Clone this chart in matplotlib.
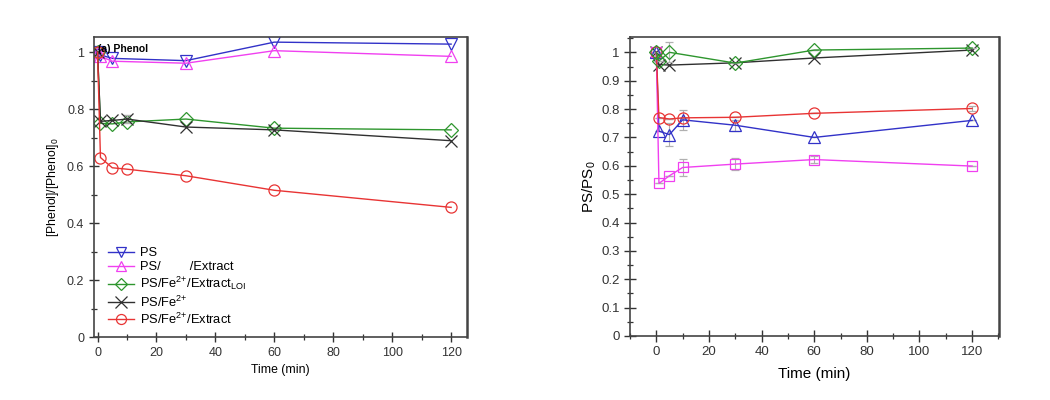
import matplotlib.pyplot as plt
from matplotlib.ticker import MultipleLocator

plt.rcParams['font.family'] = ['Liberation Sans', 'DejaVu Sans']
plt.rcParams['mathtext.default'] = 'regular'

# ---- panel (a) phenol ----
t_a = [0, 1, 5, 10, 30, 60, 120]
t_ps = [0, 1, 5, 30, 60, 120]
ps_a = [1.0, 0.99, 0.978, 0.97, 1.035, 1.028]
psx_a = [1.0, 0.985, 0.968, 0.961, 1.005, 0.985]
loi_a = [1.0, 0.75, 0.748, 0.755, 0.765, 0.733, 0.727]
fe_a = [1.0, 0.757, 0.76, 0.765, 0.737, 0.727, 0.689]
fex_a = [1.0, 0.63, 0.594, 0.589, 0.566, 0.515, 0.455]

# ---- panel (b) PS ----
t_b = [0, 1, 5, 10, 30, 60, 120]
t_b2 = [0, 1, 5, 30, 60, 120]
ps_b = [1.0, 0.722, 0.71, 0.762, 0.743, 0.70, 0.76]
ps_b_err = [0, 0.0, 0.04, 0.035, 0.02, 0.0, 0.0]
psx_b = [1.0, 0.538, 0.565, 0.594, 0.606, 0.622, 0.599]
psx_b_err = [0, 0, 0, 0.03, 0.022, 0.012, 0]
fex_b = [1.0, 0.77, 0.765, 0.769, 0.771, 0.785, 0.802]
fex_b_err = [0, 0, 0, 0, 0, 0, 0.01]
loi_b = [1.0, 0.97, 1.0, 0.962, 1.008, 1.015]
loi_b_err = [0, 0, 0.035, 0, 0, 0]
fe_b = [1.0, 0.957, 0.955, 0.963, 0.98, 1.008]

labels = ['PS', 'PS/        /Extract', 'PS/Fe$^{2{+}}$/Extract$_{LOI}$',
          'PS/Fe$^{2{+}}$', 'PS/Fe$^{2{+}}$/Extract']

blue = '#3232c8'
mag = '#f040f0'
green = '#2e962e'
blk = '#303030'
red = '#e83434'
ecol = '#b0b0b0'

fig = plt.figure(figsize=(10.5, 4), dpi=100)
ax1 = fig.add_axes([0.0895, 0.1575, 0.3553, 0.75])
ax2 = fig.add_axes([0.6, 0.16, 0.3514, 0.7475])

mk = dict(markerfacecolor='none', markersize=8, linewidth=1.0, markeredgewidth=0.9)
ax1.plot(t_ps, ps_a, marker='v', color=blue, label=labels[0], **mk)
ax1.plot(t_ps, psx_a, marker='^', color=mag, label=labels[1], **mk)
ax1.plot(t_a, loi_a, marker='D', color=green, label=labels[2], markerfacecolor='none',
         markersize=7, linewidth=1.0, markeredgewidth=0.9)
ax1.errorbar([10], [0.765], yerr=[0.015], fmt='none', ecolor=ecol, capsize=3, lw=0.8)
ax1.plot(t_a, fe_a, marker='x', color=blk, label=labels[3], markersize=9, linewidth=1.0,
         markeredgewidth=0.9)
ax1.plot(t_a, fex_a, marker='o', color=red, label=labels[4], **mk)

ax1.set_xlim(-1.2, 125.4)
ax1.set_ylim(0, 1.053)
ax1.xaxis.set_major_locator(MultipleLocator(20))
ax1.xaxis.set_minor_locator(MultipleLocator(10))
ax1.set_yticks([0, 0.2, 0.4, 0.6, 0.8, 1.0])
ax1.set_yticklabels(['0', '0.2', '0.4', '0.6', '0.8', '1'])
ax1.yaxis.set_minor_locator(MultipleLocator(0.1))
ax1.tick_params(which='major', direction='inout', length=7, width=1.0, labelsize=9, colors='#333333')
ax1.tick_params(which='minor', direction='inout', length=4, width=0.9, colors='#333333')
ax1.set_xlabel('Time (min)', fontsize=8.8, labelpad=4)
ax1.set_ylabel('[Phenol]/[Phenol]$_0$', fontsize=8.8, labelpad=4)
ax1.text(0.012, 0.975, '(a) Phenol', transform=ax1.transAxes, fontsize=7.5,
         fontweight='bold', va='top', ha='left')
ax1.legend(loc='lower left', bbox_to_anchor=(0.01, 0.0), frameon=False, fontsize=9.3,
           handlelength=2.0, handletextpad=0.5, labelspacing=0.15, borderaxespad=0.4,
           markerscale=0.9)

# panel b
ax2.errorbar(t_b, ps_b, yerr=ps_b_err, marker='^', color=blue, ecolor=ecol, capsize=3,
             elinewidth=0.8, **mk)
ax2.errorbar(t_b, psx_b, yerr=psx_b_err, marker='s', color=mag, ecolor=ecol, capsize=3,
             elinewidth=0.8, markerfacecolor='none', markersize=7, linewidth=1.0,
             markeredgewidth=0.9)
ax2.errorbar(t_b, fex_b, yerr=fex_b_err, marker='o', color=red, ecolor=ecol, capsize=3,
             elinewidth=0.8, **mk)
ax2.plot(t_b2, fe_b, marker='x', color=blk, markersize=9, linewidth=1.0, markeredgewidth=0.9)
ax2.errorbar(t_b2, loi_b, yerr=loi_b_err, marker='D', color=green, ecolor=ecol, capsize=3,
             elinewidth=0.8, markerfacecolor='none', markersize=7, linewidth=1.0,
             markeredgewidth=0.9)

ax2.set_xlim(-10, 130.2)
ax2.set_ylim(0, 1.054)
ax2.xaxis.set_major_locator(MultipleLocator(20))
ax2.xaxis.set_minor_locator(MultipleLocator(10))
ax2.set_yticks([0, 0.1, 0.2, 0.3, 0.4, 0.5, 0.6, 0.7, 0.8, 0.9, 1.0])
ax2.set_yticklabels(['0', '0.1', '0.2', '0.3', '0.4', '0.5', '0.6', '0.7', '0.8', '0.9', '1'])
ax2.yaxis.set_minor_locator(MultipleLocator(0.05))
ax2.tick_params(which='major', direction='inout', length=8, width=1.0, labelsize=9.5, colors='#333333')
ax2.tick_params(which='minor', direction='inout', length=4, width=0.9, colors='#333333')
ax2.set_xlabel('Time (min)', fontsize=11, labelpad=6)
ax2.set_ylabel('PS/PS$_0$', fontsize=11, labelpad=2)

for ax in (ax1, ax2):
    for s in ax.spines.values():
        s.set_color('#444444')
        s.set_linewidth(1.2)
    ax.spines['right'].set_linewidth(1.8)

fig.savefig('out.png', dpi=100)
